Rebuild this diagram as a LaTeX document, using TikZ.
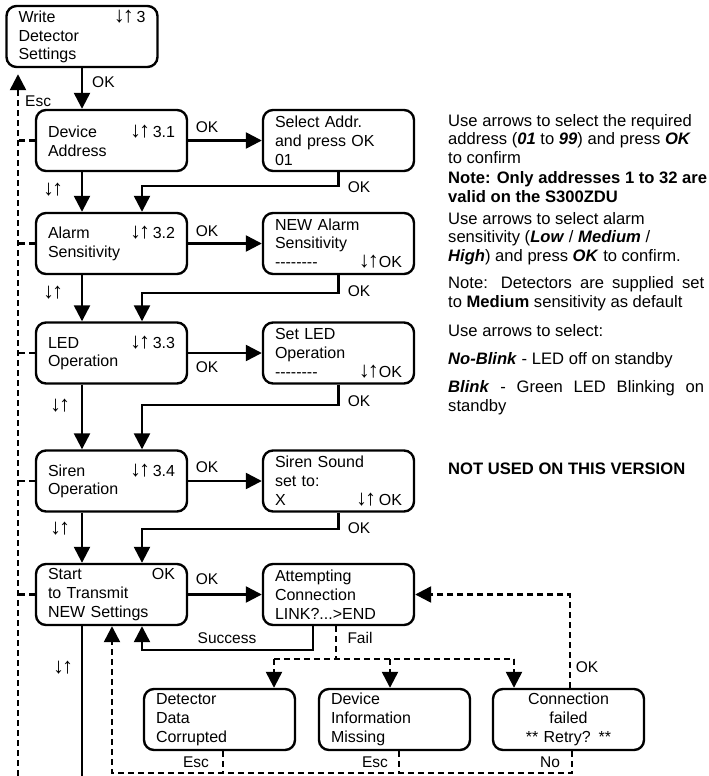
\documentclass[tikz,border=0pt]{standalone}
\usepackage{fontspec}
\setmainfont{Liberation Sans}
\usetikzlibrary{arrows.meta}
% a row of separate hyphens (kerns keep them from joining into dashes)
\newcommand\blankrow{-\kern0pt-\kern0pt-\kern0pt-\kern0pt-\kern0pt-\kern0pt-\kern0pt-}
\newcommand\bi[1]{\textbf{\textit{#1}}}
% scroll arrows, set a little larger and heavier than the text
\newcommand\scroll{{\fontsize{22}{22}\selectfont\bfseries ↓\kern-2pt↑}}

\begin{document}
\begin{tikzpicture}[x=1pt, y=-1pt,
  boxtext/.style={font=\fontsize{16}{18.8}\selectfont},
  screen/.style={boxtext, draw, line width=2.4pt, rounded corners=10pt,
    minimum width=151pt, minimum height=61pt, text width=127pt,
    inner sep=0pt, align=left},
  flow/.style={line width=2.4pt, -{Triangle[length=16pt,width=16pt]}},
  wire/.style={line width=2.4pt},
  back/.style={line width=2.4pt, dash pattern=on 6pt off 4pt},
  backflow/.style={back, -{Triangle[length=16pt,width=16pt]}},
  tag/.style={font=\fontsize{15.5}{17}\selectfont, inner sep=0pt},
  note/.style={font=\fontsize{16.6}{18.5}\selectfont, inner sep=0pt,
    anchor=base west, align=left}
]
\useasboundingbox (0,0) rectangle (709,776);

% columns used by the connectors
\coordinate (escx)  at (18,0);
\coordinate (mainx) at (82,0);
\coordinate (retx)  at (142,0);

% menu screens
\node[screen] (wds)    at (82,36.5)    {Write\hfill\scroll\,3\hspace*{3pt}\\Detector\\Settings};
\node[screen] (dev)    at (111.5,140.5) {Device\hfill\scroll\,3.1\\Address};
\node[screen] (sel)    at (338.5,140.5) {Select Addr.\\and press OK\\01};
\node[screen] (alm)    at (111.5,243.5) {Alarm\hfill\scroll\,3.2\\Sensitivity};
\node[screen] (almset) at (338.5,243.5) {NEW Alarm\\Sensitivity\\\blankrow\hfill\scroll OK};
\node[screen] (led)    at (111.5,353)   {LED\hfill\scroll\,3.3\\Operation};
\node[screen] (ledset) at (338.5,353)   {Set LED\\Operation\\\blankrow\hfill\scroll OK};
\node[screen] (sir)    at (111.5,481)   {Siren\hfill\scroll\,3.4\\Operation};
\node[screen] (sirset) at (338.5,481)   {Siren Sound\\set to:\\X\hfill\scroll\,OK};
\node[screen] (tx)     at (111.5,594.5) {Start\hfill OK\hspace*{8pt}\\to Transmit\\NEW Settings};
\node[screen] (att)    at (338.5,594.5) {Attempting\\Connection\\LINK?...>END};
\node[screen] (corr)   at (219.5,719.5) {Detector\\Data\\Corrupted};
\node[screen] (miss)   at (394.5,719.5) {Device\\Information\\Missing};
\node[screen, align=center] (fail) at (568.5,719.5) {Connection\\failed\\{**} Retry? **};

% main column
\draw[flow] (wds.south) -- (wds.south |- dev.north);
\draw[flow] (dev.south -| mainx) -- (alm.north -| mainx);
\draw[flow] (alm.south -| mainx) -- (led.north -| mainx);
\draw[flow] (led.south -| mainx) -- (sir.north -| mainx);
\draw[flow] (sir.south -| mainx) -- (tx.north -| mainx);
\coordinate (mainfoot) at (82,776);
\draw[wire] (tx.south -| mainx) -- (mainfoot);

% into each setting screen
\draw[flow] (dev.east) -- (sel.west);
\draw[flow] (alm.east) -- (almset.west);
\draw[flow] (led.east) -- (ledset.west);
\draw[flow] (sir.east) -- (sirset.west);
\draw[flow] (tx.east)  -- (att.west);

% confirmed setting returns to the next step
\draw[flow] (sel.south)    -- ++(0,14) -| (alm.north -| retx);
\draw[flow] (almset.south) -- ++(0,18) -| (led.north -| retx);
\draw[flow] (ledset.south) -- ++(0,20) -| (sir.north -| retx);
\draw[flow] (sirset.south) -- ++(0,16) -| (tx.north -| retx);

% transmit result
\coordinate (okturn) at (313,650);
\draw[flow] (att.south -| okturn) -- (okturn) -| (tx.south -| retx);

\coordinate (split)  at (336,659);
\coordinate (splitL) at (274,659);
\coordinate (splitM) at (390,659);
\coordinate (splitR) at (514,659);
\draw[back] (att.south -| split) -- (split);
\draw[back] (splitL) -- (splitR);
\draw[backflow] (splitL) -- (splitL |- corr.north);
\draw[backflow] (splitM) -- (splitM |- miss.north);
\draw[backflow] (splitR) -- (splitR |- fail.north);

\coordinate (retry) at (570,0);
\draw[backflow] (fail.north -| retry) |- (att.east);

% escape routes
\coordinate (busL) at (112,773);
\coordinate (busR) at (572,773);
\coordinate (busA) at (223,773);
\coordinate (busB) at (399,773);
\draw[backflow] (fail.south -| busR) -- (busR) -- (busL) -- (tx.south -| busL);
\draw[back] (corr.south -| busA) -- (busA);
\draw[back] (miss.south -| busB) -- (busB);

\coordinate (escfoot) at (18,776);
\draw[backflow, shorten >=6pt] (escfoot) -- (escx |- wds.south);
\draw[back] (dev.west) -- (dev.west -| escx);
\draw[back] (alm.west) -- (alm.west -| escx);
\draw[back] (led.west) -- (led.west -| escx);
\draw[back] (sir.west) -- (sir.west -| escx);
\draw[back] (tx.west)  -- (tx.west -| escx);

% connector labels
\node[tag, anchor=west] (okTop) at (92,82) {OK};
\node[tag, anchor=west] (escTop) at (25,101) {Esc};
\node[tag] (ok1)  at (207,127) {OK};
\node[tag] (ud1)  at (53,190)  {\scroll};
\node[tag] (ok1b) at (359,187) {OK};
\node[tag] (ok2)  at (207,231) {OK};
\node[tag] (ud2)  at (53,293)  {\scroll};
\node[tag] (ok2b) at (359,291) {OK};
\node[tag] (ok3)  at (207,367) {OK};
\node[tag] (ud3)  at (60,406)  {\scroll};
\node[tag] (ok3b) at (359,401) {OK};
\node[tag] (ok4)  at (207,467) {OK};
\node[tag] (ud4)  at (60,529)  {\scroll};
\node[tag] (ok4b) at (359,528) {OK};
\node[tag] (ok5)  at (207,579) {OK};
\node[tag] (succ) at (227,638) {Success};
\node[tag] (fl)   at (360,638) {Fail};
\node[tag] (ud5)  at (63,668)  {\scroll};
\node[tag] (okR)  at (587,667) {OK};
\node[tag] (esc1) at (196,762) {Esc};
\node[tag] (esc2) at (375,762) {Esc};
\node[tag] (no)   at (550,762) {No};

% descriptions (each placed by the baseline of its last line)
\node[note] (d1) at (448,163)   {Use arrows to select the required\\address (\bi{01} to \bi{99}) and press \bi{OK}\\to confirm};
\node[note] (d2) at (448,202)   {\textbf{Note: Only addresses 1 to 32 are}\\\textbf{valid on the S300ZDU}};
\node[note] (d3) at (448,261)   {Use arrows to select alarm\\sensitivity (\bi{Low} / \bi{Medium} /\\\bi{High}) and press \bi{OK} to confirm.};
\node[note] (d4) at (448,307)   {\makebox[256pt][s]{Note: Detectors are supplied set}\\to \textbf{Medium} sensitivity as default};
\node[note] (d5) at (448,336)   {Use arrows to select:};
\node[note] (d6) at (448,364)   {\bi{No-Blink} - LED off on standby};
\node[note] (d7) at (448,411)   {\makebox[256pt][s]{\bi{Blink} - Green LED Blinking on}\\standby};
\node[note] (d8) at (448,474)   {\textbf{NOT USED ON THIS VERSION}};
\end{tikzpicture}
\end{document}
